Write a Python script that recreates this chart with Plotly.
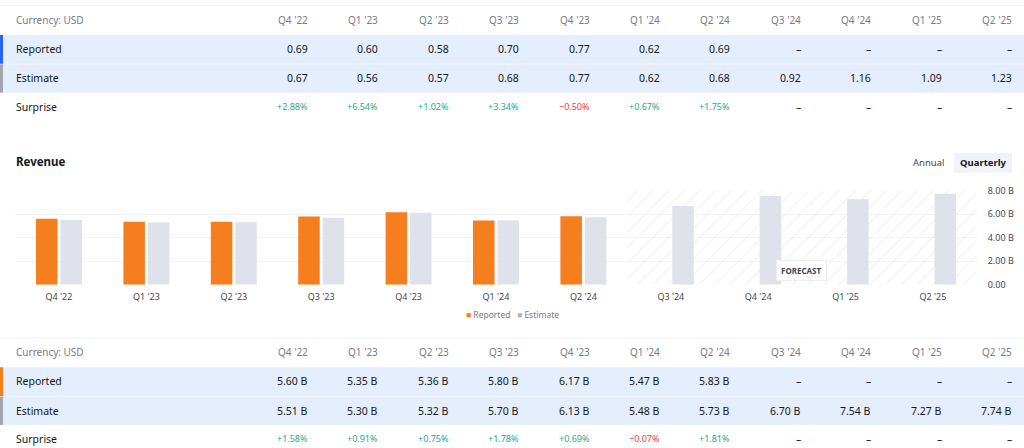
import plotly.graph_objects as go

# ---------------- data ----------------
quarters = ["Q4 '22", "Q1 '23", "Q2 '23", "Q3 '23", "Q4 '23", "Q1 '24", "Q2 '24",
            "Q3 '24", "Q4 '24", "Q1 '25", "Q2 '25"]
eps_reported = [0.69, 0.60, 0.58, 0.70, 0.77, 0.62, 0.69, None, None, None, None]
eps_estimate = [0.67, 0.56, 0.57, 0.68, 0.77, 0.62, 0.68, 0.92, 1.16, 1.09, 1.23]
eps_surprise = [2.88, 6.54, 1.02, 3.34, -0.50, 0.67, 1.75, None, None, None, None]
rev_reported = [5.60, 5.35, 5.36, 5.80, 6.17, 5.47, 5.83, None, None, None, None]
rev_estimate = [5.51, 5.30, 5.32, 5.70, 6.13, 5.48, 5.73, 6.70, 7.54, 7.27, 7.74]
rev_surprise = [1.58, 0.91, 0.75, 1.78, 0.69, -0.07, 1.81, None, None, None, None]
y_ticks = [0, 2, 4, 6, 8]
y_tick_text = ["0.00", "2.00 B", "4.00 B", "6.00 B", "8.00 B"]

# ---------------- style ----------------
W, H = 1024, 448
FONT = "Noto Sans"
ORANGE = "#f57f1f"
GRAYBAR = "#dfe2ea"
BAND = "#e4eefc"
TXT = "#131722"
MUTED = "#787b86"
GREEN = "#22ab94"
RED = "#f23645"
BLUE = "#2962ff"

# vertical calibration of the rendered page
VY0, VK = 5.4, 0.976


def px(x):
    return x / W


def py(y):
    return 1 - ((y - VY0) / VK) / H


fig = go.Figure()
shapes = []
ann = []

idx = list(range(len(quarters)))

# forecast hatched zone (starts after the last reported quarter)
n_rep = sum(v is not None for v in rev_reported)
fx0, fx1 = n_rep - 0.5, len(quarters) - 0.5
fig.add_trace(go.Scatter(x=[fx0, fx1, fx1, fx0, fx0], y=[0, 0, 8, 8, 0],
                         fill="toself", mode="lines", line=dict(width=0),
                         fillcolor="rgba(0,0,0,0)",
                         fillpattern=dict(shape="/", fgcolor="#e1e3e9",
                                          bgcolor="rgba(255,255,255,0)",
                                          size=11, solidity=0.1),
                         hoverinfo="skip", showlegend=False))

# ---------------- bar chart ----------------
fig.add_trace(go.Bar(x=idx, y=rev_reported, name="Reported", marker_color=ORANGE,
                     marker_line_width=0, showlegend=False))
fig.add_trace(go.Bar(x=idx, y=rev_estimate, name="Estimate", marker_color=GRAYBAR,
                     marker_line_width=0, showlegend=False))

fig.update_layout(
    width=W, height=H, autosize=False, margin=dict(l=0, r=0, t=0, b=0, pad=0),
    paper_bgcolor="white", plot_bgcolor="white",
    barmode="group", bargap=0.44, bargroupgap=0.12,
    font=dict(family=FONT, color=TXT, size=10),
    xaxis=dict(domain=[px(15.3), px(976.7)], range=[-0.5, 10.5],
               tickvals=idx, ticktext=quarters, showgrid=False, zeroline=False,
               showline=False, ticks="", ticklabelstandoff=5,
               tickfont=dict(size=9, color="#434651"), fixedrange=True),
    yaxis=dict(domain=[py(284.5), py(190)], range=[0, 8], side="right",
               tickvals=y_ticks, ticktext=y_tick_text, showgrid=True,
               gridcolor="#f0f3fa", gridwidth=1, zeroline=False, showline=False,
               ticks="", ticklabelstandoff=10, tickfont=dict(size=9, color="#434651"),
               fixedrange=True),
)


def text(x, y, s, size, color, xanchor="center", xref="paper", **kw):
    ann.append(dict(x=x, y=y, xref=xref, yref="paper", xanchor=xanchor,
                    yanchor="middle", text=s, showarrow=False,
                    font=dict(size=size, color=color), **kw))


# FORECAST badge
text((fx0 + fx1) / 2, py(270), "<b>FORECAST</b>", 8, "#434651", xref="x",
     bgcolor="white", bordercolor="#eceef2", borderwidth=1, borderpad=4)

# Revenue title and switch
text(px(14), py(161), "<b>Revenue</b>", 11.5, TXT, xanchor="left")
shapes.append(dict(type="rect", xref="paper", yref="paper", x0=px(954), x1=px(1012),
                   y0=py(172), y1=py(152), fillcolor="#f0f3fa", line=dict(width=0),
                   layer="below"))
text(px(928), py(162), "Annual", 9.5, "#434651")
text(px(983), py(162), "<b>Quarterly</b>", 9.5, TXT)

# legend
text(px(512), py(314),
     f"<span style='color:{ORANGE}'>■</span> Reported   "
     f"<span style='color:#b2b5be'>■</span> Estimate", 8.5, MUTED)

# ---------------- tables ----------------
col_right = [310 + 70.4 * i for i in idx]


def fmt_val(v, suffix):
    return "–" if v is None else f"{v:.2f}{suffix}"


def table(top, reported, estimate, surprise, suffix, rep_color):
    shapes.append(dict(type="line", xref="paper", yref="paper", x0=0, x1=1,
                       y0=py(top), y1=py(top), line=dict(color="#f0f3fa", width=1)))
    hy, ry, ey, sy = top + 14, top + 43.5, top + 73, top + 101.5
    r0, r1 = ry - 14, ry + 15
    e0, e1 = ey - 14, ey + 14.5
    for a, b in ((r0, r1), (e0, e1)):
        shapes.append(dict(type="rect", xref="paper", yref="paper", x0=0, x1=1,
                           y0=py(b), y1=py(a), fillcolor=BAND, line=dict(width=0),
                           layer="below"))
    shapes.append(dict(type="rect", xref="paper", yref="paper", x0=0, x1=px(3),
                       y0=py(r1), y1=py(r0), fillcolor=rep_color, line=dict(width=0)))
    shapes.append(dict(type="rect", xref="paper", yref="paper", x0=0, x1=px(3),
                       y0=py(e1), y1=py(e0), fillcolor="#a3a6af", line=dict(width=0)))
    text(px(14), py(hy), "Currency: USD", 10, MUTED, xanchor="left")
    for label, yy in (("Reported", ry), ("Estimate", ey), ("Surprise", sy)):
        text(px(14), py(yy), label, 10.5, TXT, xanchor="left")
    for i, q in enumerate(quarters):
        xr = px(col_right[i])
        text(xr, py(hy), q, 10, MUTED, xanchor="right")
        text(xr, py(ry), fmt_val(reported[i], suffix), 10.5, TXT, xanchor="right")
        text(xr, py(ey), fmt_val(estimate[i], suffix), 10.5, TXT, xanchor="right")
        v = surprise[i]
        if v is None:
            text(xr, py(sy), "–", 10.5, TXT, xanchor="right")
        else:
            sign = "+" if v >= 0 else "−"
            text(xr, py(sy), f"{sign}{abs(v):.2f}%", 9, GREEN if v >= 0 else RED,
                 xanchor="right")


table(4, eps_reported, eps_estimate, eps_surprise, "", BLUE)
table(338, rev_reported, rev_estimate, rev_surprise, " B", ORANGE)

fig.update_layout(shapes=shapes, annotations=ann)
fig.write_html(
    "out.html",
    config={"displayModeBar": False, "responsive": False},
    post_script=("document.documentElement.style.margin='0';"
                 "document.body.style.margin='0';"
                 "document.documentElement.style.overflow='hidden';"
                 "document.body.style.overflow='hidden';"),
)
